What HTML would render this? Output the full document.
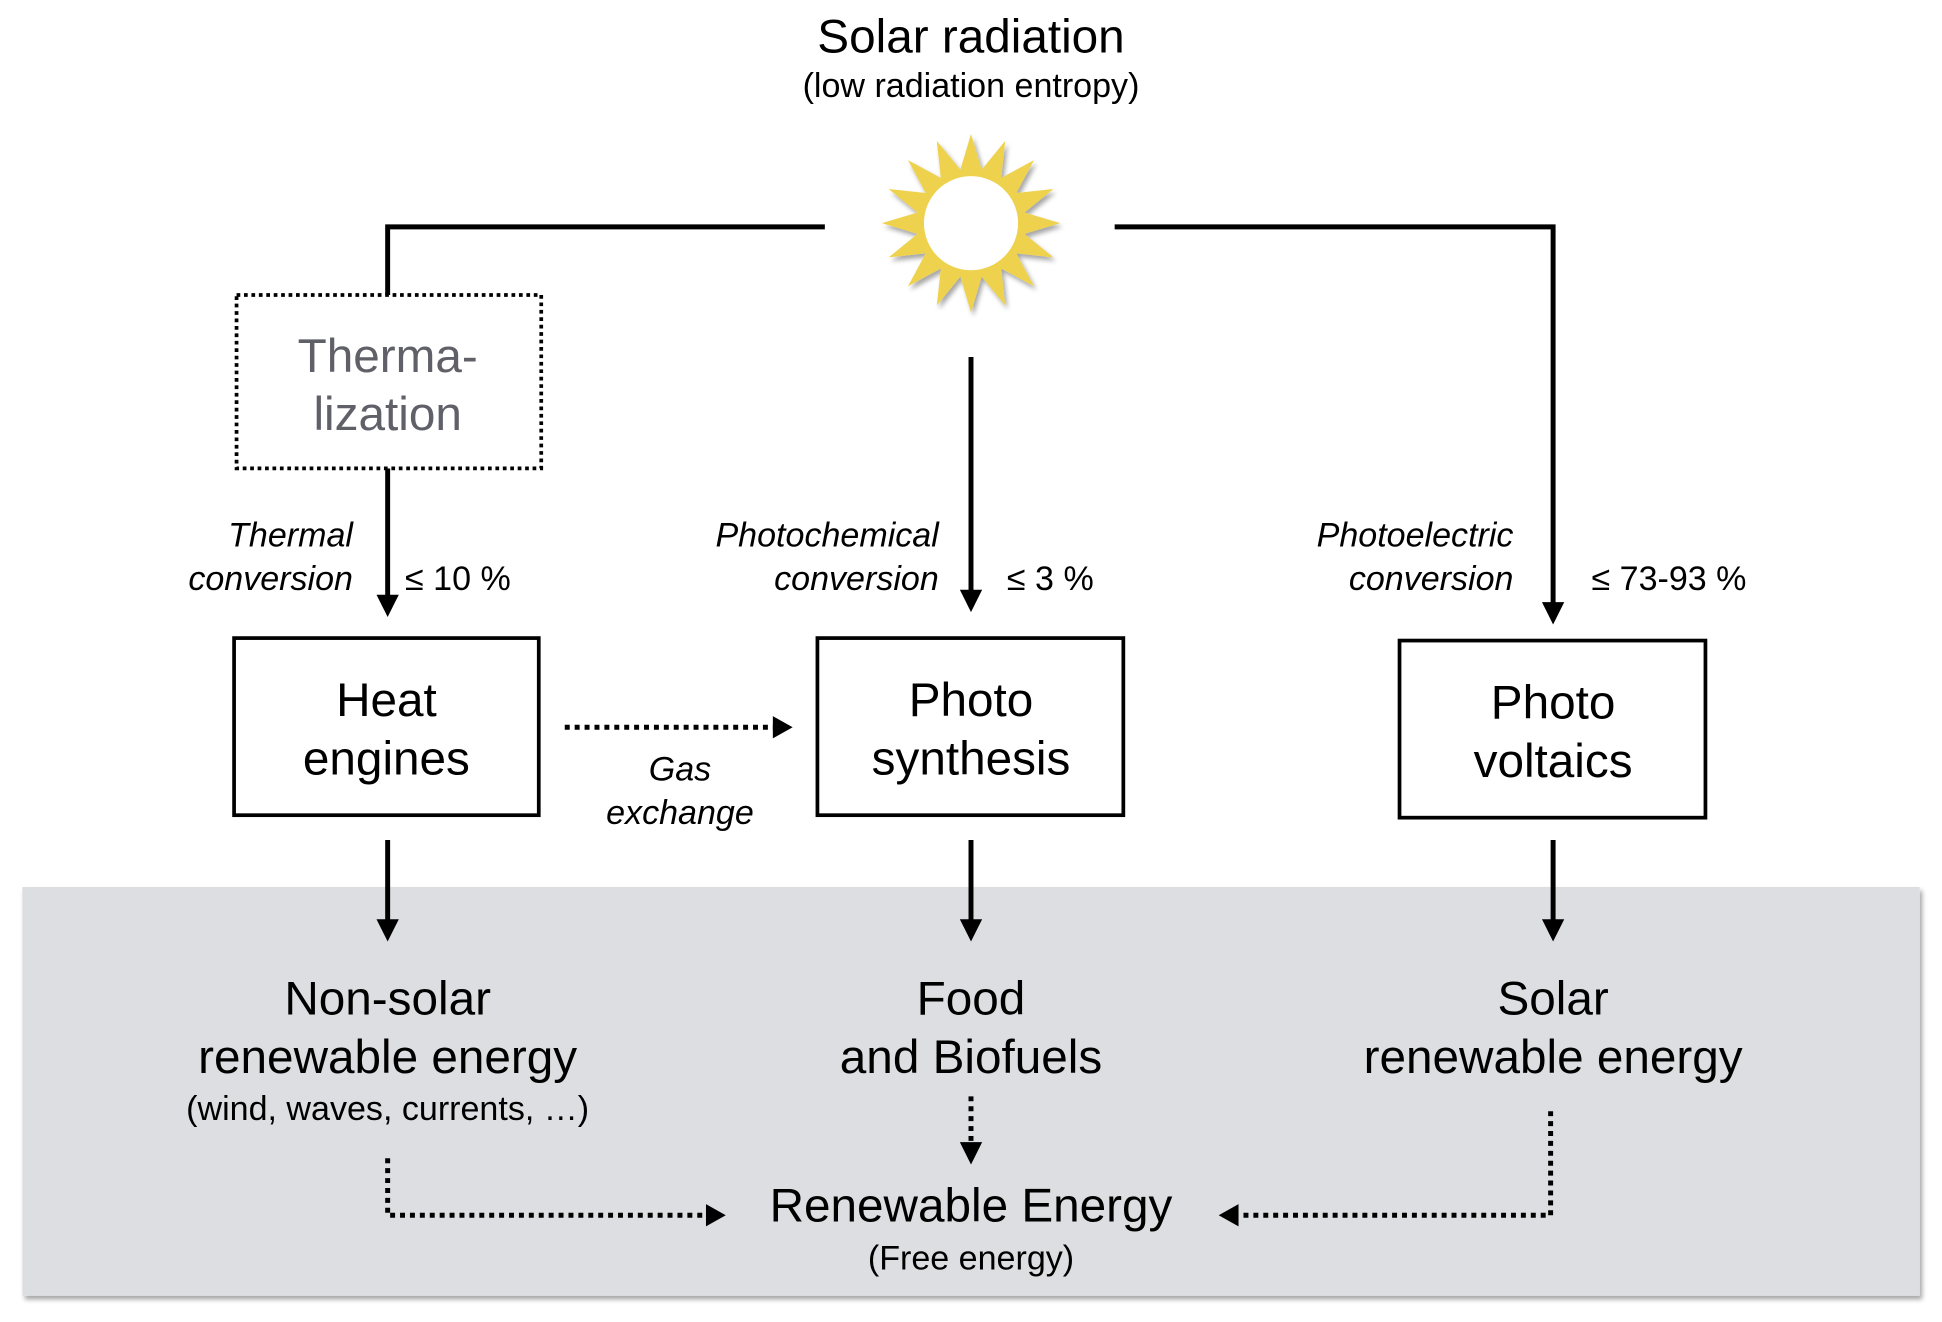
<!DOCTYPE html>
<html><head><meta charset="utf-8"><style>
html,body{margin:0;padding:0;background:#fff;}
svg{display:block;}
text{font-family:"Liberation Sans",Arial,sans-serif;fill:#000;}
.big{font-size:38.5px;}
.sm{font-size:27.5px;}
.it{font-size:27.5px;font-style:italic;}
</style></head><body>
<svg width="1942" height="1322" viewBox="0 0 1568 1067" xmlns="http://www.w3.org/2000/svg">
<defs>
<filter id="sh" x="-20%" y="-20%" width="140%" height="140%"><feDropShadow dx="2" dy="3" stdDeviation="2" flood-color="#000" flood-opacity="0.35"/></filter>
</defs>
<rect x="18" y="716" width="1532" height="330" fill="#dddee1" filter="url(#sh)"/>

<text class="big" x="784" y="42" text-anchor="middle">Solar radiation</text>
<text class="sm" x="784" y="78" text-anchor="middle">(low radiation entropy)</text>

<polygon id="sun" fill="#eed24e" filter="url(#sh)" points=""/>
<circle cx="784" cy="180" r="38" fill="#fff"/>

<g stroke="#000" stroke-width="4" fill="none">
<polyline points="666,183 313,183 313,238"/>
<polyline points="900,183 1254,183 1254,488"/>
<line x1="313" y1="378" x2="313" y2="482"/>
<line x1="784" y1="288" x2="784" y2="478"/>
<line x1="313" y1="678" x2="313" y2="744"/>
<line x1="784" y1="678" x2="784" y2="744"/>
<line x1="1254" y1="678" x2="1254" y2="744"/>
<rect x="189" y="515" width="246" height="143" stroke-width="3"/>
<rect x="660" y="515" width="247" height="143" stroke-width="3"/>
<rect x="1130" y="517" width="247" height="143" stroke-width="3"/>
</g>
<rect x="191" y="238" width="246" height="140" fill="#fff" stroke="#000" stroke-width="3" stroke-dasharray="3,3"/>
<g stroke="#000" stroke-width="4" fill="none" stroke-dasharray="4,4">
<line x1="456" y1="587" x2="626" y2="587"/>
<line x1="784" y1="885" x2="784" y2="926"/>
<polyline points="313,935 313,981 572,981"/>
<polyline points="1252,897 1252,981 998,981"/>
</g>
<g fill="#000">
<polygon points="304,480 322,480 313,498"/>
<polygon points="775,476 793,476 784,494"/>
<polygon points="1245,486 1263,486 1254,504"/>
<polygon points="304,742 322,742 313,760"/>
<polygon points="775,742 793,742 784,760"/>
<polygon points="1245,742 1263,742 1254,760"/>
<polygon points="624,578 624,596 640,587"/>
<polygon points="775,922 793,922 784,940"/>
<polygon points="570,972 570,990 586,981"/>
<polygon points="1000,972 1000,990 984,981"/>
</g>

<text class="big" x="313" y="300" text-anchor="middle" style="fill:#606068">Therma-</text>
<text class="big" x="313" y="347" text-anchor="middle" style="fill:#606068">lization</text>

<text class="it" x="285" y="441" text-anchor="end">Thermal</text>
<text class="it" x="285" y="476" text-anchor="end">conversion</text>
<text class="sm" x="327" y="476">≤ 10 %</text>
<text class="it" x="758" y="441" text-anchor="end">Photochemical</text>
<text class="it" x="758" y="476" text-anchor="end">conversion</text>
<text class="sm" x="813" y="476">≤ 3 %</text>
<text class="it" x="1222" y="441" text-anchor="end">Photoelectric</text>
<text class="it" x="1222" y="476" text-anchor="end">conversion</text>
<text class="sm" x="1285" y="476">≤ 73-93 %</text>

<text class="big" x="312" y="578" text-anchor="middle">Heat</text>
<text class="big" x="312" y="625" text-anchor="middle">engines</text>
<text class="big" x="784" y="578" text-anchor="middle">Photo</text>
<text class="big" x="784" y="625" text-anchor="middle">synthesis</text>
<text class="big" x="1254" y="580" text-anchor="middle">Photo</text>
<text class="big" x="1254" y="627" text-anchor="middle">voltaics</text>

<text class="it" x="549" y="630" text-anchor="middle">Gas</text>
<text class="it" x="549" y="665" text-anchor="middle">exchange</text>

<text class="big" x="313" y="819" text-anchor="middle">Non-solar</text>
<text class="big" x="313" y="866" text-anchor="middle">renewable energy</text>
<text class="sm" x="313" y="904" text-anchor="middle">(wind, waves, currents, …)</text>
<text class="big" x="784" y="819" text-anchor="middle">Food</text>
<text class="big" x="784" y="866" text-anchor="middle">and Biofuels</text>
<text class="big" x="1254" y="819" text-anchor="middle">Solar</text>
<text class="big" x="1254" y="866" text-anchor="middle">renewable energy</text>
<text class="big" x="784" y="986" text-anchor="middle">Renewable Energy</text>
<text class="sm" x="784" y="1025" text-anchor="middle">(Free energy)</text>
</svg>
<script>
var p=[],cx=784,cy=180;
for(var i=0;i<32;i++){var a=-Math.PI/2+i*Math.PI/16;var r=i%2?44:72;p.push((cx+r*Math.cos(a)).toFixed(1)+","+(cy+r*Math.sin(a)).toFixed(1));}
document.getElementById("sun").setAttribute("points",p.join(" "));
</script>
</body></html>
